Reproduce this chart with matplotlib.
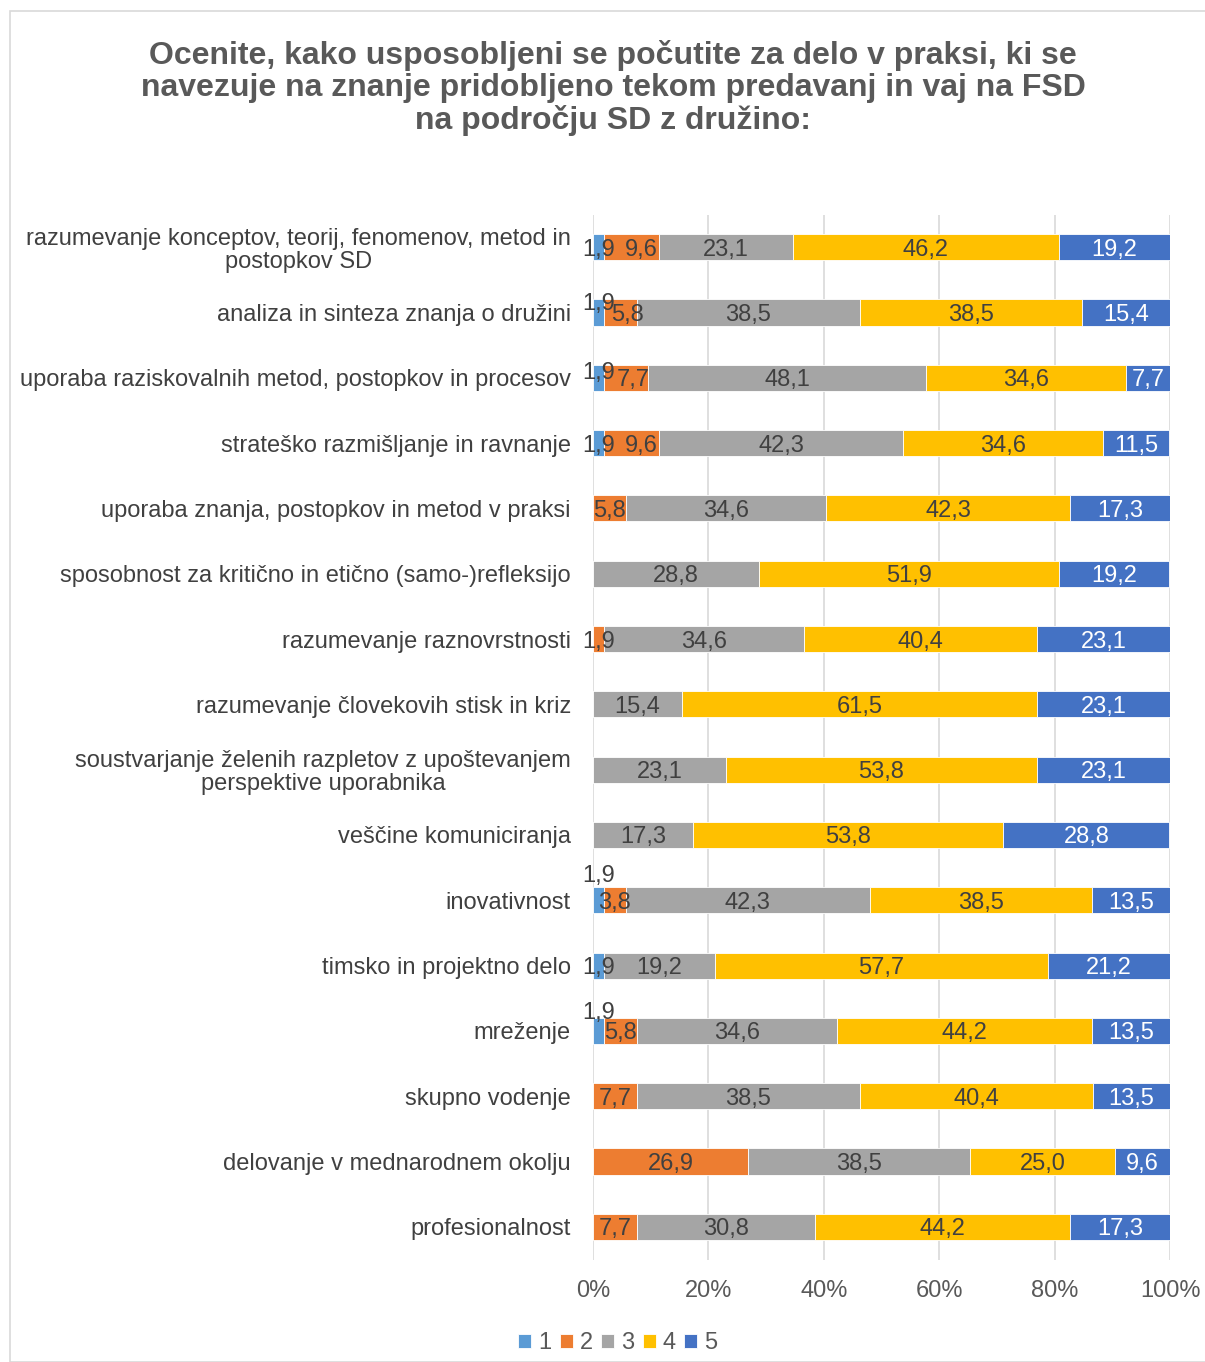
import numpy as np
import matplotlib.pyplot as plt
from matplotlib.patches import Rectangle
from matplotlib.ticker import PercentFormatter

plt.rcParams['font.family'] = ['Liberation Sans', 'DejaVu Sans']

CATEGORIES = [
    "razumevanje konceptov, teorij, fenomenov, metod in\npostopkov SD",
    "analiza in sinteza znanja o družini",
    "uporaba raziskovalnih metod, postopkov in procesov",
    "strateško razmišljanje in ravnanje",
    "uporaba znanja, postopkov in metod v praksi",
    "sposobnost za kritično in etično (samo-)refleksijo",
    "razumevanje raznovrstnosti",
    "razumevanje človekovih stisk in kriz",
    "soustvarjanje želenih razpletov z upoštevanjem\nperspektive uporabnika",
    "veščine komuniciranja",
    "inovativnost",
    "timsko in projektno delo",
    "mreženje",
    "skupno vodenje",
    "delovanje v mednarodnem okolju",
    "profesionalnost",
]

SERIES = ["1", "2", "3", "4", "5"]
S1 = [1.9, 1.9, 1.9, 1.9, 0, 0, 0, 0, 0, 0, 1.9, 1.9, 1.9, 0, 0, 0]
S2 = [9.6, 5.8, 7.7, 9.6, 5.8, 0, 1.9, 0, 0, 0, 3.8, 0, 5.8, 7.7, 26.9, 7.7]
S3 = [23.1, 38.5, 48.1, 42.3, 34.6, 28.8, 34.6, 15.4, 23.1, 17.3, 42.3, 19.2, 34.6, 38.5, 38.5, 30.8]
S4 = [46.2, 38.5, 34.6, 34.6, 42.3, 51.9, 40.4, 61.5, 53.8, 53.8, 38.5, 57.7, 44.2, 40.4, 25.0, 44.2]
S5 = [19.2, 15.4, 7.7, 11.5, 17.3, 19.2, 23.1, 23.1, 23.1, 28.8, 13.5, 21.2, 13.5, 13.5, 9.6, 17.3]

COLORS = ['#5B9BD5', '#ED7D31', '#A5A5A5', '#FFC000', '#4472C4']
LABEL_COLORS = ['#404040', '#404040', '#404040', '#404040', 'white']

# manual nudges (points) for crowded labels: (row, series) -> (dx, dy)
NUDGE = {(1, 0): (0, 8), (2, 0): (0, 5), (10, 0): (0, 19), (12, 0): (0, 15),
         (1, 1): (5, 0), (2, 1): (5, 0), (0, 1): (7, 0), (3, 1): (7, 0)}

data = np.array([S1, S2, S3, S4, S5])
n = len(CATEGORIES)
y = np.arange(n)

fig = plt.figure(figsize=(12.05, 13.62), dpi=100)
ax = fig.add_axes([593 / 1205, 1 - 1259.5 / 1362, 577 / 1205, 1045 / 1362])

left = np.zeros(n)
for k in range(5):
    vals = data[k]
    ax.barh(y, vals, left=left, height=0.4, color=COLORS[k], label=SERIES[k],
            edgecolor='white', linewidth=0.6, zorder=3)
    for i, v in enumerate(vals):
        if v <= 0:
            continue
        dx, dy = NUDGE.get((i, k), (0, 0))
        ax.annotate(f"{v:.1f}".replace('.', ','), (left[i] + v / 2, i),
                    xytext=(dx, dy), textcoords='offset points',
                    ha='center', va='center_baseline', fontsize=17,
                    color=LABEL_COLORS[k], zorder=4)
    left += vals

ax.set_xlim(0, 100)
ax.set_ylim(n - 0.5, -0.5)
ax.set_yticks(y)
ax.set_yticklabels(CATEGORIES, fontsize=17, color='#404040',
                   multialignment='center', linespacing=1.05)
ax.set_xticks(np.arange(0, 101, 20))
ax.xaxis.set_major_formatter(PercentFormatter(decimals=0))
ax.tick_params(axis='x', labelsize=17, labelcolor='#595959', length=0, pad=15)
ax.tick_params(axis='y', length=0, pad=16)
ax.grid(axis='x', color='#d9d9d9', linewidth=1.2, zorder=0)
for s in ax.spines.values():
    s.set_visible(False)

fig.text(613 / 1205, 1 - 88 / 1362,
         "Ocenite, kako usposobljeni se počutite za delo v praksi, ki se\n"
         "navezuje na znanje pridobljeno tekom predavanj in vaj na FSD\n"
         "na področju SD z družino:",
         ha='center', va='center', fontsize=23, fontweight='bold',
         color='#595959', linespacing=1.1)

fig.legend(loc='center', bbox_to_anchor=(618 / 1205, 1 - 1343 / 1362), ncol=5,
           frameon=False, fontsize=17, handlelength=0.55, handleheight=0.55,
           handletextpad=0.3, columnspacing=0.35, labelcolor='#595959')

fig.patches.append(Rectangle((10 / 1205, 0), 1.2, 1 - 11 / 1362,
                             transform=fig.transFigure, fill=False,
                             edgecolor='#d9d9d9', linewidth=1.2))

fig.savefig("out.png", dpi=100)
